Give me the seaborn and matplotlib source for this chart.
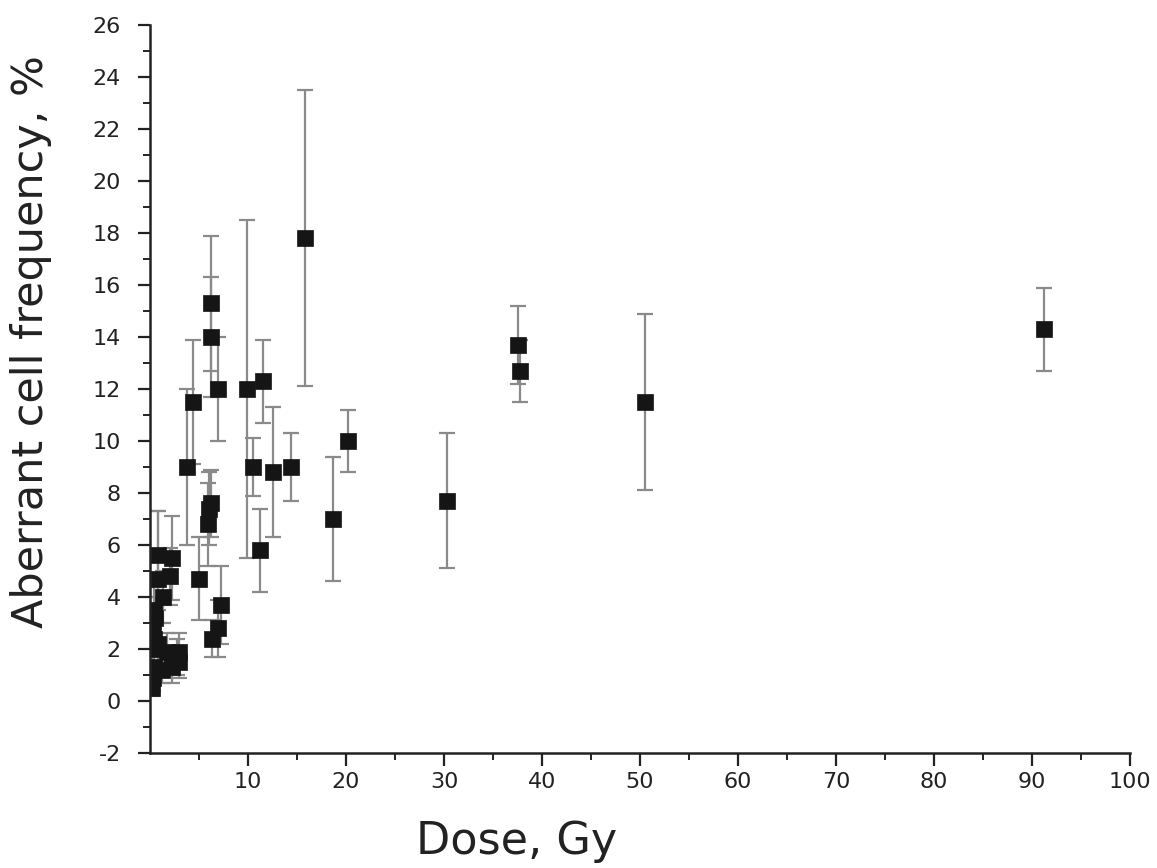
import numpy as np
import pandas as pd
import matplotlib
matplotlib.use("Agg")
import matplotlib.pyplot as plt
import seaborn as sns

# Data
dose = [0.2, 0.3, 0.4, 0.3, 0.4, 0.3, 0.5, 0.4, 0.8, 1.3,
        0.8, 0.8, 2.0, 2.3, 1.7, 2.2, 2.8, 3.0, 3.0, 1.2,
        3.8, 4.4, 5.0, 5.9, 6.0, 6.2, 6.2, 6.2, 6.3, 6.9,
        7.2, 6.9, 9.9, 10.5, 11.2, 11.5, 12.6, 14.4, 15.8, 18.7,
        20.2, 30.3, 37.6, 37.8, 50.5, 91.2]
freq = [0.5, 0.9, 1.3, 2.0, 2.4, 2.9, 3.2, 3.5, 2.2, 4.0,
        4.7, 5.6, 4.8, 5.5, 1.9, 1.3, 1.7, 1.5, 1.9, 1.2,
        9.0, 11.5, 4.7, 6.8, 7.4, 7.6, 14.0, 15.3, 2.4, 2.8,
        3.7, 12.0, 12.0, 9.0, 5.8, 12.3, 8.8, 9.0, 17.8, 7.0,
        10.0, 7.7, 13.7, 12.7, 11.5, 14.3]
err_low = [0.3, 0.5, 0.6, 0.7, 0.7, 0.8, 0.8, 0.9, 0.7, 1.0,
           1.2, 1.6, 1.1, 1.6, 0.7, 0.6, 0.7, 0.6, 0.6, 0.5,
           3.0, 2.4, 1.6, 1.6, 1.4, 1.3, 2.3, 2.6, 0.7, 1.1,
           1.5, 2.0, 6.5, 1.1, 1.6, 1.6, 2.5, 1.3, 5.7, 2.4,
           1.2, 2.6, 1.5, 1.2, 3.4, 1.6]
err_high = [0.4, 0.5, 0.6, 0.7, 0.7, 0.8, 0.8, 0.9, 0.8, 1.0,
            2.6, 1.7, 1.1, 1.6, 0.7, 0.6, 0.7, 0.6, 0.7, 0.5,
            3.0, 2.4, 1.6, 1.6, 1.4, 1.3, 2.3, 2.6, 0.7, 1.1,
            1.5, 2.0, 6.5, 1.1, 1.6, 1.6, 2.5, 1.3, 5.7, 2.4,
            1.2, 2.6, 1.5, 1.2, 3.4, 1.6]

x_ticks = [10, 20, 30, 40, 50, 60, 70, 80, 90, 100]
y_ticks = list(range(-2, 27, 2))

df = pd.DataFrame({"dose": dose, "freq": freq})

sns.set_theme(style="ticks")
plt.rcParams['font.family'] = ['DejaVu Sans']
plt.rcParams['axes.unicode_minus'] = False

fig = plt.figure(figsize=(11.57, 8.68), dpi=100)
ax = fig.add_axes([0.1296, 0.1325, 0.8471, 0.8387])

ax.errorbar(dose, freq, yerr=[err_low, err_high], fmt='none',
            ecolor='#8a8a8a', elinewidth=1.6, capsize=6, capthick=1.6, zorder=1)
sns.scatterplot(data=df, x="dose", y="freq", marker='s', s=130, color='#151515',
                edgecolor='#151515', linewidth=0.5, ax=ax, zorder=2)

ax.set_xlim(0, 100)
ax.set_ylim(-2, 26)
ax.set_xticks(x_ticks)
ax.set_xticks(np.arange(5, 100, 10), minor=True)
ax.set_yticks(y_ticks)
ax.set_yticks(np.arange(-1, 26, 2), minor=True)
ax.tick_params(axis='both', which='major', direction='out', length=9, width=1.6,
               labelsize=16, colors='#222222')
ax.tick_params(axis='both', which='minor', direction='out', length=5, width=1.4,
               colors='#222222')
ax.tick_params(axis='x', which='major', pad=5)
ax.tick_params(axis='y', which='major', pad=12)

for side in ['top', 'right']:
    ax.spines[side].set_visible(False)
for side in ['left', 'bottom']:
    ax.spines[side].set_linewidth(1.8)
    ax.spines[side].set_color('#222222')

ax.set_xlabel("Dose, Gy", fontsize=32, color='#222222')
ax.set_ylabel("Aberrant cell frequency, %", fontsize=31, color='#222222')
ax.xaxis.set_label_coords(0.374, -0.092)
ax.yaxis.set_label_coords(-0.10, 0.565)

fig.savefig("out.png", dpi=100)
